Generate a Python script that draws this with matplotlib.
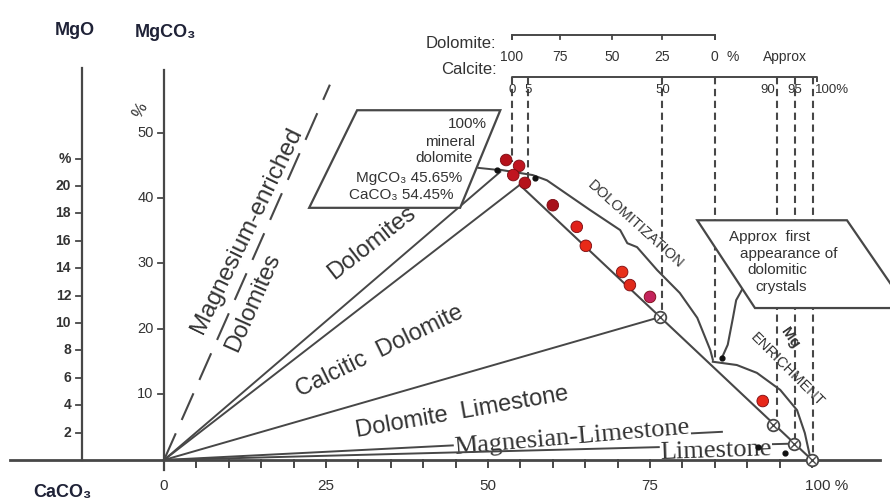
import matplotlib.pyplot as plt
from matplotlib.patches import Polygon

plt.rcParams['font.family'] = ['Liberation Sans', 'DejaVu Sans']

# sample analyses, CaCO3 % (x) against MgCO3 % (y)
sample_caco3 = [52.8, 54.8, 53.9, 55.7, 60.0, 63.7, 65.1, 70.7, 71.9, 75.0, 92.4]
sample_mgco3 = [45.8, 44.9, 43.5, 42.3, 38.9, 35.6, 32.7, 28.7, 26.7, 24.9, 9.0]
sample_colors = ['#b5121b', '#c01520', '#c01520', '#b5121b', '#a8101a', '#e0201a',
                 '#e82a18', '#e8301a', '#e02a1a', '#c3245c', '#e8281a']

# class boundaries drawn from the origin (end points)
ray_x = [51.9, 54.9, 76.5, 86.1, 97.2]
ray_y = [44.0, 42.0, 21.8, 4.3, 2.5]
mg_enriched_x = [0, 25.6]
mg_enriched_y = [0, 57.3]

# dolomite - calcite mixing line
mix_x = [54.9, 100.0]
mix_y = [42.0, 0.0]

# dolomitization envelope
dolo_x = [51.9, 56.9, 59.1, 65.7, 70.4, 71.5, 73.0, 76.1, 79.6, 82.3, 84.3, 84.7]
dolo_y = [44.3, 43.5, 42.7, 38.2, 35.1, 33.1, 32.5, 29.0, 25.5, 21.7, 16.8, 15.3]

# Mg enrichment curve
mgen_x = [84.7, 88.4, 91.5, 95.1, 97.7, 98.9, 99.7]
mgen_y = [15.0, 14.5, 13.3, 10.7, 7.6, 4.1, 0.5]

# leader from the "first appearance" box
lead_x = [86.1, 87.0, 87.8, 88.3, 89.2]
lead_y = [15.6, 17.6, 21.7, 24.4, 26.0]

# reference points
circ_x = [76.5, 94.0, 97.2, 100.0]
circ_y = [21.8, 5.3, 2.5, 0.0]
dot_x = [51.4, 57.3, 86.1, 91.7, 95.8]
dot_y = [44.3, 43.1, 15.6, 2.0, 1.0]

# top scales
dol_ticks = ['100', '75', '50', '25', '0']
dol_pos = [53.7, 61.1, 69.1, 76.9, 85.0]
cal_ticks = ['0', '5', '50', '90', '95', '100%']
cal_pos = [53.7, 56.2, 76.9, 94.3, 97.4, 100.5]
cal_ha = ['center', 'center', 'center', 'right', 'center', 'left']
guide_x = [53.7, 56.2, 76.9, 85.0, 94.6, 97.4, 100.2]
guide_bottom = [45.5, 43.0, 22.4, 15.6, 5.0, 2.4, 0.0]

# axes
mgco3_ticks = [10, 20, 30, 40, 50]
mgo_ticks = [2, 4, 6, 8, 10, 12, 14, 16, 18, 20]
caco3_minor = list(range(0, 101, 5))
caco3_labels = [0, 25, 50, 75]
MGO_TO_MGCO3 = 84.31 / 40.30

LC = '#474747'
TC = '#333333'
NAVY = '#1f2237'

fig = plt.figure(figsize=(8.9, 5.04), dpi=100)
ax = fig.add_axes([0, 0, 1, 1])
ax.set_xlim(-25.31, 112.04)
ax.set_ylim(-6.72, 70.23)
ax.axis('off')

# base line and CaCO3 ticks
ax.plot([-23.8, 110.5], [0, 0], color=LC, lw=2.0, zorder=6)
for v in caco3_minor:
    ax.plot([v, v], [0, -1.1], color=LC, lw=1.4, zorder=6)
for v in caco3_labels:
    ax.text(v, -4.0, str(v), ha='center', va='center', fontsize=11, color=TC)
ax.text(98.9, -4.0, '100 %', ha='left', va='center', fontsize=11, color=TC)

# MgCO3 axis
ax.plot([0, 0], [-1.6, 59.5], color=LC, lw=1.6)
for v in mgco3_ticks:
    ax.plot([-1.0, 0], [v, v], color=LC, lw=1.3)
    ax.text(-1.6, v, str(v), ha='right', va='center', fontsize=10.5, color=TC)
ax.text(-3.7, 53.4, '%', ha='center', va='center', fontsize=12, color=TC, rotation=60)

# MgO axis
mgo_x = -12.65
ax.plot([mgo_x, mgo_x], [0, 59.8], color=LC, lw=1.6)
for v in mgo_ticks + [22]:
    y = v * MGO_TO_MGCO3
    ax.plot([mgo_x - 1.0, mgo_x], [y, y], color=LC, lw=1.3)
    lab = '%' if v == 22 else str(v)
    ax.text(mgo_x - 1.7, y, lab, ha='right', va='center', fontsize=10, color=TC,
            fontweight='bold')

ax.text(-13.7, 65.6, 'MgO', ha='center', va='center', fontsize=13, fontweight='bold', color=NAVY)
ax.text(0.3, 65.2, 'MgCO₃', ha='center', va='center', fontsize=13, fontweight='bold', color=NAVY)
ax.text(-15.7, -4.9, 'CaCO₃', ha='center', va='center', fontsize=13, fontweight='bold', color=NAVY)

# boundaries
ax.plot(mg_enriched_x, mg_enriched_y, color=LC, lw=1.5, ls=(0, (14, 7)))
for i, (ex, ey) in enumerate(zip(ray_x, ray_y)):
    ax.plot([0, ex], [0, ey], color=LC, lw=1.4, zorder=4 if i == 4 else 2)
ax.plot(mix_x, mix_y, color=LC, lw=1.5, zorder=3)
ax.plot(dolo_x, dolo_y, color=LC, lw=1.5, zorder=3)
ax.plot(mgen_x, mgen_y, color=LC, lw=1.5, zorder=3)
ax.plot(lead_x, lead_y, color=LC, lw=1.5, zorder=3)
ax.plot([48.5, 51.4], [44.6, 44.3], color=LC, lw=1.4, zorder=3)

# vertical guides
for gx, gb in zip(guide_x, guide_bottom):
    ax.plot([gx, gx], [58.5, gb], color=LC, lw=1.5, ls=(0, (3.5, 2.2)), zorder=2)

# top scales
ax.plot([dol_pos[0], dol_pos[0], dol_pos[-1], dol_pos[-1]], [64.3, 64.9, 64.9, 64.3],
        color=LC, lw=1.4)
for p, t in zip(dol_pos, dol_ticks):
    ax.plot([p, p], [64.9, 64.3], color=LC, lw=1.3)
    ax.text(p, 61.5, t, ha='center', va='center', fontsize=10, color=TC)
ax.text(87.8, 61.5, '%', ha='center', va='center', fontsize=10, color=TC)
ax.text(95.8, 61.5, 'Approx', ha='center', va='center', fontsize=10, color=TC)
ax.text(51.3, 63.6, 'Dolomite:', ha='right', va='center', fontsize=12, color=TC)
ax.text(51.3, 59.6, 'Calcite:', ha='right', va='center', fontsize=12, color=TC)
ax.plot([53.7, 53.7, 100.8, 100.8], [57.8, 58.5, 58.5, 57.8], color=LC, lw=1.4)
for p, t, h in zip(cal_pos, cal_ticks, cal_ha):
    ax.text(p, 56.5, t, ha=h, va='center', fontsize=9.5, color=TC)

# boxes
box1 = Polygon([(29.8, 53.4), (51.9, 53.4), (45.7, 38.5), (22.4, 38.5)], closed=True,
               facecolor='white', edgecolor=LC, lw=1.6, zorder=5)
ax.add_patch(box1)
box_lines = ['100%', 'mineral', 'dolomite', 'MgCO₃ 45.65%', 'CaCO₃ 54.45%']
box_lx = [49.8, 48.0, 47.7, 46.0, 44.6]
box_ly = [51.3, 48.6, 46.1, 43.1, 40.5]
for t, x, y in zip(box_lines, box_lx, box_ly):
    ax.text(x, y, t, ha='right', va='center', fontsize=11, color=TC, zorder=6)

box2 = Polygon([(82.3, 36.6), (105.4, 36.6), (114.7, 23.2), (91.2, 23.2)], closed=True,
               facecolor='white', edgecolor=LC, lw=1.6, zorder=5)
ax.add_patch(box2)
b2_lines = ['Approx  first', 'appearance of', 'dolomitic', 'crystals']
b2_x = [93.4, 96.4, 94.6, 95.2]
b2_y = [34.0, 31.5, 29.0, 26.4]
for t, x, y in zip(b2_lines, b2_x, b2_y):
    ax.text(x, y, t, ha='center', va='center', fontsize=11, color=TC, zorder=6)

# class labels
ax.text(12.8, 35.1, 'Magnesium-enriched', rotation=64, ha='center', va='center',
        fontsize=17.5, color=TC, rotation_mode='anchor')
ax.text(13.7, 24.0, 'Dolomites', rotation=66, ha='center', va='center',
        fontsize=17, color=TC, rotation_mode='anchor')
ax.text(32.1, 33.1, 'Dolomites', rotation=38, ha='center', va='center',
        fontsize=17, color=TC, rotation_mode='anchor')
ax.text(33.3, 16.5, 'Calcitic  Dolomite', rotation=26, ha='center', va='center',
        fontsize=17, color=TC, rotation_mode='anchor')
ax.text(46.0, 7.2, 'Dolomite  Limestone', rotation=10, ha='center', va='center',
        fontsize=17, color=TC, rotation_mode='anchor')
ax.text(63.0, 3.4, 'Magnesian-Limestone', rotation=5, ha='center', va='center',
        fontsize=19, color=TC, family='Liberation Serif', rotation_mode='anchor', zorder=3,
        bbox=dict(facecolor='white', edgecolor='none', pad=0.3))
ax.text(85.2, 1.3, 'Limestone', rotation=2, ha='center', va='center',
        fontsize=19, color=TC, family='Liberation Serif', rotation_mode='anchor', zorder=5,
        bbox=dict(facecolor='white', edgecolor='none', pad=0.1))
ax.text(72.7, 35.9, 'DOLOMITIZATION', rotation=-42, ha='center', va='center',
        fontsize=10.5, color=TC, rotation_mode='anchor')
ax.text(96.6, 18.6, 'Mg', rotation=-55, ha='center', va='center',
        fontsize=11, color=TC, fontweight='bold', rotation_mode='anchor')
ax.text(96.1, 13.7, 'ENRICHMENT', rotation=-45, ha='center', va='center',
        fontsize=10.5, color=TC, rotation_mode='anchor')

# points
ax.scatter(circ_x, circ_y, s=70, facecolors='white', edgecolors=LC, linewidths=1.3, zorder=7)
ax.scatter(circ_x, circ_y, s=22, marker='x', color=LC, linewidths=1.0, zorder=7)
ax.scatter(dot_x, dot_y, s=12, color='#111111', zorder=7)
ax.scatter(sample_caco3, sample_mgco3, s=70, c=sample_colors, edgecolors='#7a0a10',
           linewidths=0.6, zorder=8)

fig.savefig('out.png', dpi=100)
